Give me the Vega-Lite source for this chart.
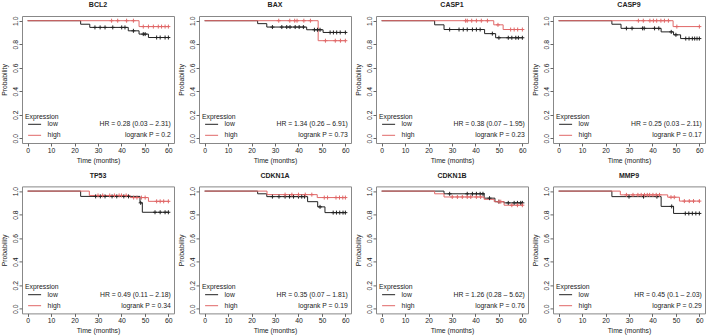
{
  "$schema": "https://vega.github.io/schema/vega-lite/v6.json",
  "padding": {"left": 0, "top": 0, "right": 0, "bottom": 0},
  "background": "white",
  "columns": 4,
  "spacing": {"row": 43.4, "column": 25},
  "bounds": "flush",
  "resolve": {"scale": {"color": "independent"}, "legend": {"color": "independent"}},
  "config": {
    "font": "Liberation Sans",
    "view": {"stroke": "#888888", "strokeWidth": 1},
    "title": {"fontSize": 7, "fontWeight": "bold", "offset": 7.5, "color": "#222222", "anchor": "middle"},
    "axis": {"domain": false, "grid": false, "tickSize": 3, "tickColor": "#666666", "labelFontSize": 6.8, "titleFontSize": 6.8, "titleFontWeight": "normal", "labelColor": "#222222", "titleColor": "#222222", "labelPadding": 1, "labelOverlap": false, "labelFlush": false, "tickCount": 12},
    "axisX": {"titlePadding": 3.5},
    "axisY": {"labelAngle": 270, "labelAlign": "center", "labelBaseline": "bottom", "titlePadding": 5},
    "legend": {"orient": "bottom-left", "offset": 3, "padding": 0, "titleFontSize": 6.8, "titleFontWeight": "normal", "labelFontSize": 6.8, "symbolType": "stroke", "symbolSize": 169, "symbolStrokeWidth": 1, "titlePadding": -3.5, "rowPadding": 0, "symbolOffset": 2.6, "labelOffset": 6, "titleColor": "#222222", "labelColor": "#222222"}
  },
  "datasets": {
    "km": [
      {"g":"BCL2","e":"low","t":0,"s":1,"c":0},
      {"g":"BCL2","e":"low","t":22.6,"s":0.97,"c":0},
      {"g":"BCL2","e":"low","t":26.5,"s":0.943,"c":0},
      {"g":"BCL2","e":"low","t":28.7,"s":0.943,"c":1},
      {"g":"BCL2","e":"low","t":30.9,"s":0.943,"c":1},
      {"g":"BCL2","e":"low","t":33,"s":0.943,"c":1},
      {"g":"BCL2","e":"low","t":36.3,"s":0.943,"c":1},
      {"g":"BCL2","e":"low","t":40.1,"s":0.943,"c":1},
      {"g":"BCL2","e":"low","t":41.5,"s":0.943,"c":1},
      {"g":"BCL2","e":"low","t":42.9,"s":0.914,"c":0},
      {"g":"BCL2","e":"low","t":45.1,"s":0.914,"c":1},
      {"g":"BCL2","e":"low","t":47.5,"s":0.886,"c":0},
      {"g":"BCL2","e":"low","t":49.3,"s":0.886,"c":1},
      {"g":"BCL2","e":"low","t":50.1,"s":0.886,"c":1},
      {"g":"BCL2","e":"low","t":51.5,"s":0.857,"c":0},
      {"g":"BCL2","e":"low","t":55,"s":0.857,"c":1},
      {"g":"BCL2","e":"low","t":56.5,"s":0.857,"c":1},
      {"g":"BCL2","e":"low","t":58.6,"s":0.857,"c":1},
      {"g":"BCL2","e":"low","t":60,"s":0.857,"c":1},
      {"g":"BCL2","e":"high","t":0,"s":1,"c":0},
      {"g":"BCL2","e":"high","t":35.8,"s":1,"c":1},
      {"g":"BCL2","e":"high","t":38.4,"s":1,"c":1},
      {"g":"BCL2","e":"high","t":42.2,"s":1,"c":1},
      {"g":"BCL2","e":"high","t":45.1,"s":1,"c":1},
      {"g":"BCL2","e":"high","t":47.5,"s":0.95,"c":0},
      {"g":"BCL2","e":"high","t":49.3,"s":0.95,"c":1},
      {"g":"BCL2","e":"high","t":51.5,"s":0.95,"c":1},
      {"g":"BCL2","e":"high","t":53.6,"s":0.95,"c":1},
      {"g":"BCL2","e":"high","t":55.7,"s":0.95,"c":1},
      {"g":"BCL2","e":"high","t":57.1,"s":0.95,"c":1},
      {"g":"BCL2","e":"high","t":58.6,"s":0.95,"c":1},
      {"g":"BCL2","e":"high","t":60,"s":0.95,"c":1},

      {"g":"BAX","e":"low","t":0,"s":1,"c":0},
      {"g":"BAX","e":"low","t":22.6,"s":0.975,"c":0},
      {"g":"BAX","e":"low","t":26.5,"s":0.946,"c":0},
      {"g":"BAX","e":"low","t":28.9,"s":0.946,"c":1},
      {"g":"BAX","e":"low","t":32.9,"s":0.946,"c":1},
      {"g":"BAX","e":"low","t":35,"s":0.946,"c":1},
      {"g":"BAX","e":"low","t":36.4,"s":0.946,"c":1},
      {"g":"BAX","e":"low","t":38.6,"s":0.946,"c":1},
      {"g":"BAX","e":"low","t":40.3,"s":0.946,"c":1},
      {"g":"BAX","e":"low","t":42.1,"s":0.946,"c":1},
      {"g":"BAX","e":"low","t":43.5,"s":0.923,"c":0},
      {"g":"BAX","e":"low","t":46.8,"s":0.923,"c":1},
      {"g":"BAX","e":"low","t":48.1,"s":0.923,"c":1},
      {"g":"BAX","e":"low","t":49.2,"s":0.923,"c":1},
      {"g":"BAX","e":"low","t":50.5,"s":0.9,"c":0},
      {"g":"BAX","e":"low","t":53.5,"s":0.9,"c":1},
      {"g":"BAX","e":"low","t":54.9,"s":0.9,"c":1},
      {"g":"BAX","e":"low","t":56.3,"s":0.9,"c":1},
      {"g":"BAX","e":"low","t":57.8,"s":0.9,"c":1},
      {"g":"BAX","e":"low","t":60,"s":0.9,"c":1},
      {"g":"BAX","e":"high","t":0,"s":1,"c":0},
      {"g":"BAX","e":"high","t":31.6,"s":1,"c":1},
      {"g":"BAX","e":"high","t":36.3,"s":1,"c":1},
      {"g":"BAX","e":"high","t":38.4,"s":1,"c":1},
      {"g":"BAX","e":"high","t":39.4,"s":1,"c":1},
      {"g":"BAX","e":"high","t":42.3,"s":1,"c":1},
      {"g":"BAX","e":"high","t":45.1,"s":1,"c":1},
      {"g":"BAX","e":"high","t":48.4,"s":0.83,"c":0},
      {"g":"BAX","e":"high","t":51.5,"s":0.83,"c":1},
      {"g":"BAX","e":"high","t":55.7,"s":0.83,"c":1},
      {"g":"BAX","e":"high","t":57.9,"s":0.83,"c":1},
      {"g":"BAX","e":"high","t":60,"s":0.83,"c":1},

      {"g":"CASP1","e":"low","t":0,"s":1,"c":0},
      {"g":"CASP1","e":"low","t":22.6,"s":0.965,"c":0},
      {"g":"CASP1","e":"low","t":26.6,"s":0.925,"c":0},
      {"g":"CASP1","e":"low","t":29,"s":0.925,"c":1},
      {"g":"CASP1","e":"low","t":33,"s":0.925,"c":1},
      {"g":"CASP1","e":"low","t":34.8,"s":0.925,"c":1},
      {"g":"CASP1","e":"low","t":36.5,"s":0.925,"c":1},
      {"g":"CASP1","e":"low","t":38.7,"s":0.925,"c":1},
      {"g":"CASP1","e":"low","t":40.4,"s":0.925,"c":1},
      {"g":"CASP1","e":"low","t":42,"s":0.925,"c":1},
      {"g":"CASP1","e":"low","t":43.9,"s":0.89,"c":0},
      {"g":"CASP1","e":"low","t":47.2,"s":0.89,"c":1},
      {"g":"CASP1","e":"low","t":48.6,"s":0.855,"c":0},
      {"g":"CASP1","e":"low","t":50,"s":0.855,"c":1},
      {"g":"CASP1","e":"low","t":54,"s":0.855,"c":1},
      {"g":"CASP1","e":"low","t":55.5,"s":0.855,"c":1},
      {"g":"CASP1","e":"low","t":57.2,"s":0.855,"c":1},
      {"g":"CASP1","e":"low","t":58.3,"s":0.855,"c":1},
      {"g":"CASP1","e":"low","t":60,"s":0.855,"c":1},
      {"g":"CASP1","e":"high","t":0,"s":1,"c":0},
      {"g":"CASP1","e":"high","t":35.8,"s":1,"c":1},
      {"g":"CASP1","e":"high","t":36.5,"s":1,"c":1},
      {"g":"CASP1","e":"high","t":38.4,"s":1,"c":1},
      {"g":"CASP1","e":"high","t":40.4,"s":1,"c":1},
      {"g":"CASP1","e":"high","t":42.5,"s":1,"c":1},
      {"g":"CASP1","e":"high","t":45.1,"s":1,"c":1},
      {"g":"CASP1","e":"high","t":47.8,"s":0.965,"c":0},
      {"g":"CASP1","e":"high","t":49.6,"s":0.965,"c":1},
      {"g":"CASP1","e":"high","t":51.8,"s":0.925,"c":0},
      {"g":"CASP1","e":"high","t":55,"s":0.925,"c":1},
      {"g":"CASP1","e":"high","t":56.5,"s":0.925,"c":1},
      {"g":"CASP1","e":"high","t":58,"s":0.925,"c":1},
      {"g":"CASP1","e":"high","t":60,"s":0.925,"c":1},

      {"g":"CASP9","e":"low","t":0,"s":1,"c":0},
      {"g":"CASP9","e":"low","t":22.7,"s":0.97,"c":0},
      {"g":"CASP9","e":"low","t":26.6,"s":0.935,"c":0},
      {"g":"CASP9","e":"low","t":28.9,"s":0.935,"c":1},
      {"g":"CASP9","e":"low","t":31.3,"s":0.935,"c":1},
      {"g":"CASP9","e":"low","t":35.8,"s":0.935,"c":1},
      {"g":"CASP9","e":"low","t":36.5,"s":0.935,"c":1},
      {"g":"CASP9","e":"low","t":40.9,"s":0.935,"c":1},
      {"g":"CASP9","e":"low","t":42.7,"s":0.935,"c":1},
      {"g":"CASP9","e":"low","t":43.7,"s":0.905,"c":0},
      {"g":"CASP9","e":"low","t":48,"s":0.905,"c":1},
      {"g":"CASP9","e":"low","t":49,"s":0.88,"c":0},
      {"g":"CASP9","e":"low","t":50,"s":0.88,"c":1},
      {"g":"CASP9","e":"low","t":52,"s":0.848,"c":0},
      {"g":"CASP9","e":"low","t":54.2,"s":0.848,"c":1},
      {"g":"CASP9","e":"low","t":55.6,"s":0.848,"c":1},
      {"g":"CASP9","e":"low","t":57,"s":0.848,"c":1},
      {"g":"CASP9","e":"low","t":58,"s":0.848,"c":1},
      {"g":"CASP9","e":"low","t":59,"s":0.848,"c":1},
      {"g":"CASP9","e":"low","t":60,"s":0.848,"c":1},
      {"g":"CASP9","e":"high","t":0,"s":1,"c":0},
      {"g":"CASP9","e":"high","t":34,"s":1,"c":1},
      {"g":"CASP9","e":"high","t":36.1,"s":1,"c":1},
      {"g":"CASP9","e":"high","t":38.9,"s":1,"c":1},
      {"g":"CASP9","e":"high","t":40.4,"s":1,"c":1},
      {"g":"CASP9","e":"high","t":41.8,"s":1,"c":1},
      {"g":"CASP9","e":"high","t":43.6,"s":1,"c":1},
      {"g":"CASP9","e":"high","t":45.1,"s":1,"c":1},
      {"g":"CASP9","e":"high","t":46.8,"s":1,"c":1},
      {"g":"CASP9","e":"high","t":48.8,"s":0.95,"c":0},
      {"g":"CASP9","e":"high","t":50.4,"s":0.95,"c":1},
      {"g":"CASP9","e":"high","t":60,"s":0.95,"c":1},

      {"g":"TP53","e":"low","t":0,"s":1,"c":0},
      {"g":"TP53","e":"low","t":22.6,"s":0.955,"c":0},
      {"g":"TP53","e":"low","t":29,"s":0.955,"c":1},
      {"g":"TP53","e":"low","t":31,"s":0.955,"c":1},
      {"g":"TP53","e":"low","t":33,"s":0.955,"c":1},
      {"g":"TP53","e":"low","t":36,"s":0.955,"c":1},
      {"g":"TP53","e":"low","t":38,"s":0.955,"c":1},
      {"g":"TP53","e":"low","t":41,"s":0.955,"c":1},
      {"g":"TP53","e":"low","t":43,"s":0.955,"c":1},
      {"g":"TP53","e":"low","t":47.9,"s":0.9,"c":0},
      {"g":"TP53","e":"low","t":48.2,"s":0.9,"c":1},
      {"g":"TP53","e":"low","t":48.9,"s":0.82,"c":0},
      {"g":"TP53","e":"low","t":54.3,"s":0.82,"c":1},
      {"g":"TP53","e":"low","t":56.5,"s":0.82,"c":1},
      {"g":"TP53","e":"low","t":58.6,"s":0.82,"c":1},
      {"g":"TP53","e":"low","t":60,"s":0.82,"c":1},
      {"g":"TP53","e":"high","t":0,"s":1,"c":0},
      {"g":"TP53","e":"high","t":26.3,"s":0.963,"c":0},
      {"g":"TP53","e":"high","t":30,"s":0.963,"c":1},
      {"g":"TP53","e":"high","t":32,"s":0.963,"c":1},
      {"g":"TP53","e":"high","t":35,"s":0.963,"c":1},
      {"g":"TP53","e":"high","t":37,"s":0.963,"c":1},
      {"g":"TP53","e":"high","t":39,"s":0.963,"c":1},
      {"g":"TP53","e":"high","t":40,"s":0.963,"c":1},
      {"g":"TP53","e":"high","t":42,"s":0.963,"c":1},
      {"g":"TP53","e":"high","t":43.7,"s":0.945,"c":0},
      {"g":"TP53","e":"high","t":45.2,"s":0.945,"c":1},
      {"g":"TP53","e":"high","t":46.6,"s":0.945,"c":1},
      {"g":"TP53","e":"high","t":48.5,"s":0.945,"c":1},
      {"g":"TP53","e":"high","t":50.1,"s":0.945,"c":1},
      {"g":"TP53","e":"high","t":51.5,"s":0.913,"c":0},
      {"g":"TP53","e":"high","t":55,"s":0.913,"c":1},
      {"g":"TP53","e":"high","t":56.5,"s":0.913,"c":1},
      {"g":"TP53","e":"high","t":58,"s":0.913,"c":1},
      {"g":"TP53","e":"high","t":60,"s":0.913,"c":1},

      {"g":"CDKN1A","e":"low","t":0,"s":1,"c":0},
      {"g":"CDKN1A","e":"low","t":22.6,"s":0.977,"c":0},
      {"g":"CDKN1A","e":"low","t":26.5,"s":0.953,"c":0},
      {"g":"CDKN1A","e":"low","t":28.9,"s":0.953,"c":1},
      {"g":"CDKN1A","e":"low","t":31.7,"s":0.953,"c":1},
      {"g":"CDKN1A","e":"low","t":34.3,"s":0.953,"c":1},
      {"g":"CDKN1A","e":"low","t":36.2,"s":0.953,"c":1},
      {"g":"CDKN1A","e":"low","t":37.9,"s":0.953,"c":1},
      {"g":"CDKN1A","e":"low","t":40,"s":0.953,"c":1},
      {"g":"CDKN1A","e":"low","t":41.4,"s":0.953,"c":1},
      {"g":"CDKN1A","e":"low","t":42.6,"s":0.953,"c":1},
      {"g":"CDKN1A","e":"low","t":43.9,"s":0.91,"c":0},
      {"g":"CDKN1A","e":"low","t":48.2,"s":0.866,"c":0},
      {"g":"CDKN1A","e":"low","t":49.2,"s":0.866,"c":1},
      {"g":"CDKN1A","e":"low","t":51.3,"s":0.817,"c":0},
      {"g":"CDKN1A","e":"low","t":54.8,"s":0.817,"c":1},
      {"g":"CDKN1A","e":"low","t":56.2,"s":0.817,"c":1},
      {"g":"CDKN1A","e":"low","t":57.6,"s":0.817,"c":1},
      {"g":"CDKN1A","e":"low","t":59,"s":0.817,"c":1},
      {"g":"CDKN1A","e":"low","t":60,"s":0.817,"c":1},
      {"g":"CDKN1A","e":"high","t":0,"s":1,"c":0},
      {"g":"CDKN1A","e":"high","t":26.6,"s":0.97,"c":0},
      {"g":"CDKN1A","e":"high","t":34.3,"s":0.97,"c":1},
      {"g":"CDKN1A","e":"high","t":37.2,"s":0.97,"c":1},
      {"g":"CDKN1A","e":"high","t":40,"s":0.97,"c":1},
      {"g":"CDKN1A","e":"high","t":42.9,"s":0.97,"c":1},
      {"g":"CDKN1A","e":"high","t":45.7,"s":0.97,"c":1},
      {"g":"CDKN1A","e":"high","t":48,"s":0.945,"c":0},
      {"g":"CDKN1A","e":"high","t":51,"s":0.945,"c":1},
      {"g":"CDKN1A","e":"high","t":52.4,"s":0.945,"c":1},
      {"g":"CDKN1A","e":"high","t":56,"s":0.945,"c":1},
      {"g":"CDKN1A","e":"high","t":57.5,"s":0.945,"c":1},
      {"g":"CDKN1A","e":"high","t":58.9,"s":0.945,"c":1},
      {"g":"CDKN1A","e":"high","t":60,"s":0.945,"c":1},

      {"g":"CDKN1B","e":"low","t":0,"s":1,"c":0},
      {"g":"CDKN1B","e":"low","t":26.6,"s":0.977,"c":0},
      {"g":"CDKN1B","e":"low","t":29,"s":0.977,"c":1},
      {"g":"CDKN1B","e":"low","t":36.5,"s":0.977,"c":1},
      {"g":"CDKN1B","e":"low","t":38.7,"s":0.977,"c":1},
      {"g":"CDKN1B","e":"low","t":40.4,"s":0.977,"c":1},
      {"g":"CDKN1B","e":"low","t":42,"s":0.977,"c":1},
      {"g":"CDKN1B","e":"low","t":43.2,"s":0.977,"c":1},
      {"g":"CDKN1B","e":"low","t":43.7,"s":0.94,"c":0},
      {"g":"CDKN1B","e":"low","t":46,"s":0.94,"c":1},
      {"g":"CDKN1B","e":"low","t":48.3,"s":0.91,"c":0},
      {"g":"CDKN1B","e":"low","t":50,"s":0.91,"c":1},
      {"g":"CDKN1B","e":"low","t":52.2,"s":0.9,"c":0},
      {"g":"CDKN1B","e":"low","t":54,"s":0.9,"c":1},
      {"g":"CDKN1B","e":"low","t":56.5,"s":0.9,"c":1},
      {"g":"CDKN1B","e":"low","t":57.9,"s":0.9,"c":1},
      {"g":"CDKN1B","e":"low","t":59.3,"s":0.9,"c":1},
      {"g":"CDKN1B","e":"low","t":60,"s":0.9,"c":1},
      {"g":"CDKN1B","e":"high","t":0,"s":1,"c":0},
      {"g":"CDKN1B","e":"high","t":22.6,"s":0.977,"c":0},
      {"g":"CDKN1B","e":"high","t":26.6,"s":0.95,"c":0},
      {"g":"CDKN1B","e":"high","t":30.1,"s":0.95,"c":1},
      {"g":"CDKN1B","e":"high","t":32.3,"s":0.95,"c":1},
      {"g":"CDKN1B","e":"high","t":34.4,"s":0.95,"c":1},
      {"g":"CDKN1B","e":"high","t":36.5,"s":0.95,"c":1},
      {"g":"CDKN1B","e":"high","t":38,"s":0.95,"c":1},
      {"g":"CDKN1B","e":"high","t":40.4,"s":0.95,"c":1},
      {"g":"CDKN1B","e":"high","t":42.2,"s":0.95,"c":1},
      {"g":"CDKN1B","e":"high","t":43.7,"s":0.93,"c":0},
      {"g":"CDKN1B","e":"high","t":48,"s":0.91,"c":0},
      {"g":"CDKN1B","e":"high","t":50,"s":0.91,"c":1},
      {"g":"CDKN1B","e":"high","t":50.8,"s":0.91,"c":1},
      {"g":"CDKN1B","e":"high","t":52.2,"s":0.88,"c":0},
      {"g":"CDKN1B","e":"high","t":55.5,"s":0.88,"c":1},
      {"g":"CDKN1B","e":"high","t":57.9,"s":0.88,"c":1},
      {"g":"CDKN1B","e":"high","t":60,"s":0.88,"c":1},

      {"g":"MMP9","e":"low","t":0,"s":1,"c":0},
      {"g":"MMP9","e":"low","t":22.7,"s":0.953,"c":0},
      {"g":"MMP9","e":"low","t":30,"s":0.953,"c":1},
      {"g":"MMP9","e":"low","t":36.2,"s":0.953,"c":1},
      {"g":"MMP9","e":"low","t":41.9,"s":0.953,"c":1},
      {"g":"MMP9","e":"low","t":43.7,"s":0.87,"c":0},
      {"g":"MMP9","e":"low","t":48.2,"s":0.87,"c":1},
      {"g":"MMP9","e":"low","t":49,"s":0.81,"c":0},
      {"g":"MMP9","e":"low","t":54,"s":0.81,"c":1},
      {"g":"MMP9","e":"low","t":55.5,"s":0.81,"c":1},
      {"g":"MMP9","e":"low","t":57,"s":0.81,"c":1},
      {"g":"MMP9","e":"low","t":58.5,"s":0.81,"c":1},
      {"g":"MMP9","e":"low","t":60,"s":0.81,"c":1},
      {"g":"MMP9","e":"high","t":0,"s":1,"c":0},
      {"g":"MMP9","e":"high","t":26.3,"s":0.968,"c":0},
      {"g":"MMP9","e":"high","t":28.9,"s":0.968,"c":1},
      {"g":"MMP9","e":"high","t":31.7,"s":0.968,"c":1},
      {"g":"MMP9","e":"high","t":33.8,"s":0.968,"c":1},
      {"g":"MMP9","e":"high","t":35.2,"s":0.968,"c":1},
      {"g":"MMP9","e":"high","t":36.6,"s":0.968,"c":1},
      {"g":"MMP9","e":"high","t":37.8,"s":0.968,"c":1},
      {"g":"MMP9","e":"high","t":38.8,"s":0.968,"c":1},
      {"g":"MMP9","e":"high","t":40.2,"s":0.968,"c":1},
      {"g":"MMP9","e":"high","t":41.6,"s":0.968,"c":1},
      {"g":"MMP9","e":"high","t":43,"s":0.968,"c":1},
      {"g":"MMP9","e":"high","t":46.5,"s":0.948,"c":0},
      {"g":"MMP9","e":"high","t":47.9,"s":0.948,"c":1},
      {"g":"MMP9","e":"high","t":49.3,"s":0.948,"c":1},
      {"g":"MMP9","e":"high","t":51.5,"s":0.915,"c":0},
      {"g":"MMP9","e":"high","t":53.6,"s":0.915,"c":1},
      {"g":"MMP9","e":"high","t":55.7,"s":0.915,"c":1},
      {"g":"MMP9","e":"high","t":57.5,"s":0.915,"c":1},
      {"g":"MMP9","e":"high","t":60,"s":0.915,"c":1}
    ],
    "stats": [
      {"g":"BCL2","txt":"HR = 0.28 (0.03 – 2.31)\nlogrank P = 0.2"},
      {"g":"BAX","txt":"HR = 1.34 (0.26 – 6.91)\nlogrank P = 0.73"},
      {"g":"CASP1","txt":"HR = 0.38 (0.07 – 1.95)\nlogrank P = 0.23"},
      {"g":"CASP9","txt":"HR = 0.25 (0.03 – 2.11)\nlogrank P = 0.17"},
      {"g":"TP53","txt":"HR = 0.49 (0.11 – 2.18)\nlogrank P = 0.34"},
      {"g":"CDKN1A","txt":"HR = 0.35 (0.07 – 1.81)\nlogrank P = 0.19"},
      {"g":"CDKN1B","txt":"HR = 1.26 (0.28 – 5.62)\nlogrank P = 0.76"},
      {"g":"MMP9","txt":"HR = 0.45 (0.1 – 2.03)\nlogrank P = 0.29"}
    ]
  },
  "concat": [
    {"title": "BCL2", "width": 152, "height": 127, "layer": [
      {"data": {"name": "km"}, "transform": [{"filter": "datum.g==='BCL2'"}], "mark": {"type": "line", "interpolate": "step-after", "strokeWidth": 1},
       "encoding": {"x": {"field": "t", "type": "quantitative", "scale": {"domain": [-2.4, 62.4], "nice": false, "zero": false}, "axis": {"values": [0,10,20,30,40,50,60], "tickCount": 12, "labelOverlap": false, "title": "Time (months)"}},
                    "y": {"field": "s", "type": "quantitative", "scale": {"domain": [-0.04, 1.04], "nice": false, "zero": false}, "axis": {"values": [0,0.2,0.4,0.6,0.8,1], "tickCount": 12, "labelOverlap": false, "format": ".1f", "title": "Probability"}},
                    "color": {"field": "e", "type": "nominal", "scale": {"domain": ["low","high"], "range": ["#222222","#e06868"]}, "title": "Expression"}}},
      {"data": {"name": "km"}, "transform": [{"filter": "datum.g==='BCL2' && datum.c===1"}], "mark": {"type": "point", "shape": "M-1,0H1M0,-1V1", "filled": false, "size": 16, "strokeWidth": 1, "opacity": 1},
       "encoding": {"x": {"field": "t", "type": "quantitative"}, "y": {"field": "s", "type": "quantitative"}, "color": {"field": "e", "type": "nominal", "title": "Expression"}}},
      {"data": {"name": "stats"}, "transform": [{"filter": "datum.g==='BCL2'"}], "mark": {"type": "text", "align": "right", "baseline": "middle", "lineBreak": "\n", "lineHeight": 11, "fontSize": 6.8, "color": "#222222"},
       "encoding": {"x": {"datum": 61}, "y": {"datum": 0.118}, "text": {"field": "txt"}}}
    ]},
    {"title": "BAX", "width": 152, "height": 127, "layer": [
      {"data": {"name": "km"}, "transform": [{"filter": "datum.g==='BAX'"}], "mark": {"type": "line", "interpolate": "step-after", "strokeWidth": 1},
       "encoding": {"x": {"field": "t", "type": "quantitative", "scale": {"domain": [-2.4, 62.4], "nice": false, "zero": false}, "axis": {"values": [0,10,20,30,40,50,60], "tickCount": 12, "labelOverlap": false, "title": "Time (months)"}},
                    "y": {"field": "s", "type": "quantitative", "scale": {"domain": [-0.04, 1.04], "nice": false, "zero": false}, "axis": {"values": [0,0.2,0.4,0.6,0.8,1], "tickCount": 12, "labelOverlap": false, "format": ".1f", "title": "Probability"}},
                    "color": {"field": "e", "type": "nominal", "scale": {"domain": ["low","high"], "range": ["#222222","#e06868"]}, "title": "Expression"}}},
      {"data": {"name": "km"}, "transform": [{"filter": "datum.g==='BAX' && datum.c===1"}], "mark": {"type": "point", "shape": "M-1,0H1M0,-1V1", "filled": false, "size": 16, "strokeWidth": 1, "opacity": 1},
       "encoding": {"x": {"field": "t", "type": "quantitative"}, "y": {"field": "s", "type": "quantitative"}, "color": {"field": "e", "type": "nominal", "title": "Expression"}}},
      {"data": {"name": "stats"}, "transform": [{"filter": "datum.g==='BAX'"}], "mark": {"type": "text", "align": "right", "baseline": "middle", "lineBreak": "\n", "lineHeight": 11, "fontSize": 6.8, "color": "#222222"},
       "encoding": {"x": {"datum": 61}, "y": {"datum": 0.118}, "text": {"field": "txt"}}}
    ]},
    {"title": "CASP1", "width": 152, "height": 127, "layer": [
      {"data": {"name": "km"}, "transform": [{"filter": "datum.g==='CASP1'"}], "mark": {"type": "line", "interpolate": "step-after", "strokeWidth": 1},
       "encoding": {"x": {"field": "t", "type": "quantitative", "scale": {"domain": [-2.4, 62.4], "nice": false, "zero": false}, "axis": {"values": [0,10,20,30,40,50,60], "tickCount": 12, "labelOverlap": false, "title": "Time (months)"}},
                    "y": {"field": "s", "type": "quantitative", "scale": {"domain": [-0.04, 1.04], "nice": false, "zero": false}, "axis": {"values": [0,0.2,0.4,0.6,0.8,1], "tickCount": 12, "labelOverlap": false, "format": ".1f", "title": "Probability"}},
                    "color": {"field": "e", "type": "nominal", "scale": {"domain": ["low","high"], "range": ["#222222","#e06868"]}, "title": "Expression"}}},
      {"data": {"name": "km"}, "transform": [{"filter": "datum.g==='CASP1' && datum.c===1"}], "mark": {"type": "point", "shape": "M-1,0H1M0,-1V1", "filled": false, "size": 16, "strokeWidth": 1, "opacity": 1},
       "encoding": {"x": {"field": "t", "type": "quantitative"}, "y": {"field": "s", "type": "quantitative"}, "color": {"field": "e", "type": "nominal", "title": "Expression"}}},
      {"data": {"name": "stats"}, "transform": [{"filter": "datum.g==='CASP1'"}], "mark": {"type": "text", "align": "right", "baseline": "middle", "lineBreak": "\n", "lineHeight": 11, "fontSize": 6.8, "color": "#222222"},
       "encoding": {"x": {"datum": 61}, "y": {"datum": 0.118}, "text": {"field": "txt"}}}
    ]},
    {"title": "CASP9", "width": 152, "height": 127, "layer": [
      {"data": {"name": "km"}, "transform": [{"filter": "datum.g==='CASP9'"}], "mark": {"type": "line", "interpolate": "step-after", "strokeWidth": 1},
       "encoding": {"x": {"field": "t", "type": "quantitative", "scale": {"domain": [-2.4, 62.4], "nice": false, "zero": false}, "axis": {"values": [0,10,20,30,40,50,60], "tickCount": 12, "labelOverlap": false, "title": "Time (months)"}},
                    "y": {"field": "s", "type": "quantitative", "scale": {"domain": [-0.04, 1.04], "nice": false, "zero": false}, "axis": {"values": [0,0.2,0.4,0.6,0.8,1], "tickCount": 12, "labelOverlap": false, "format": ".1f", "title": "Probability"}},
                    "color": {"field": "e", "type": "nominal", "scale": {"domain": ["low","high"], "range": ["#222222","#e06868"]}, "title": "Expression"}}},
      {"data": {"name": "km"}, "transform": [{"filter": "datum.g==='CASP9' && datum.c===1"}], "mark": {"type": "point", "shape": "M-1,0H1M0,-1V1", "filled": false, "size": 16, "strokeWidth": 1, "opacity": 1},
       "encoding": {"x": {"field": "t", "type": "quantitative"}, "y": {"field": "s", "type": "quantitative"}, "color": {"field": "e", "type": "nominal", "title": "Expression"}}},
      {"data": {"name": "stats"}, "transform": [{"filter": "datum.g==='CASP9'"}], "mark": {"type": "text", "align": "right", "baseline": "middle", "lineBreak": "\n", "lineHeight": 11, "fontSize": 6.8, "color": "#222222"},
       "encoding": {"x": {"datum": 61}, "y": {"datum": 0.118}, "text": {"field": "txt"}}}
    ]},
    {"title": "TP53", "width": 152, "height": 127, "layer": [
      {"data": {"name": "km"}, "transform": [{"filter": "datum.g==='TP53'"}], "mark": {"type": "line", "interpolate": "step-after", "strokeWidth": 1},
       "encoding": {"x": {"field": "t", "type": "quantitative", "scale": {"domain": [-2.4, 62.4], "nice": false, "zero": false}, "axis": {"values": [0,10,20,30,40,50,60], "tickCount": 12, "labelOverlap": false, "title": "Time (months)"}},
                    "y": {"field": "s", "type": "quantitative", "scale": {"domain": [-0.04, 1.04], "nice": false, "zero": false}, "axis": {"values": [0,0.2,0.4,0.6,0.8,1], "tickCount": 12, "labelOverlap": false, "format": ".1f", "title": "Probability"}},
                    "color": {"field": "e", "type": "nominal", "scale": {"domain": ["low","high"], "range": ["#222222","#e06868"]}, "title": "Expression"}}},
      {"data": {"name": "km"}, "transform": [{"filter": "datum.g==='TP53' && datum.c===1"}], "mark": {"type": "point", "shape": "M-1,0H1M0,-1V1", "filled": false, "size": 16, "strokeWidth": 1, "opacity": 1},
       "encoding": {"x": {"field": "t", "type": "quantitative"}, "y": {"field": "s", "type": "quantitative"}, "color": {"field": "e", "type": "nominal", "title": "Expression"}}},
      {"data": {"name": "stats"}, "transform": [{"filter": "datum.g==='TP53'"}], "mark": {"type": "text", "align": "right", "baseline": "middle", "lineBreak": "\n", "lineHeight": 11, "fontSize": 6.8, "color": "#222222"},
       "encoding": {"x": {"datum": 61}, "y": {"datum": 0.118}, "text": {"field": "txt"}}}
    ]},
    {"title": "CDKN1A", "width": 152, "height": 127, "layer": [
      {"data": {"name": "km"}, "transform": [{"filter": "datum.g==='CDKN1A'"}], "mark": {"type": "line", "interpolate": "step-after", "strokeWidth": 1},
       "encoding": {"x": {"field": "t", "type": "quantitative", "scale": {"domain": [-2.4, 62.4], "nice": false, "zero": false}, "axis": {"values": [0,10,20,30,40,50,60], "tickCount": 12, "labelOverlap": false, "title": "Time (months)"}},
                    "y": {"field": "s", "type": "quantitative", "scale": {"domain": [-0.04, 1.04], "nice": false, "zero": false}, "axis": {"values": [0,0.2,0.4,0.6,0.8,1], "tickCount": 12, "labelOverlap": false, "format": ".1f", "title": "Probability"}},
                    "color": {"field": "e", "type": "nominal", "scale": {"domain": ["low","high"], "range": ["#222222","#e06868"]}, "title": "Expression"}}},
      {"data": {"name": "km"}, "transform": [{"filter": "datum.g==='CDKN1A' && datum.c===1"}], "mark": {"type": "point", "shape": "M-1,0H1M0,-1V1", "filled": false, "size": 16, "strokeWidth": 1, "opacity": 1},
       "encoding": {"x": {"field": "t", "type": "quantitative"}, "y": {"field": "s", "type": "quantitative"}, "color": {"field": "e", "type": "nominal", "title": "Expression"}}},
      {"data": {"name": "stats"}, "transform": [{"filter": "datum.g==='CDKN1A'"}], "mark": {"type": "text", "align": "right", "baseline": "middle", "lineBreak": "\n", "lineHeight": 11, "fontSize": 6.8, "color": "#222222"},
       "encoding": {"x": {"datum": 61}, "y": {"datum": 0.118}, "text": {"field": "txt"}}}
    ]},
    {"title": "CDKN1B", "width": 152, "height": 127, "layer": [
      {"data": {"name": "km"}, "transform": [{"filter": "datum.g==='CDKN1B'"}], "mark": {"type": "line", "interpolate": "step-after", "strokeWidth": 1},
       "encoding": {"x": {"field": "t", "type": "quantitative", "scale": {"domain": [-2.4, 62.4], "nice": false, "zero": false}, "axis": {"values": [0,10,20,30,40,50,60], "tickCount": 12, "labelOverlap": false, "title": "Time (months)"}},
                    "y": {"field": "s", "type": "quantitative", "scale": {"domain": [-0.04, 1.04], "nice": false, "zero": false}, "axis": {"values": [0,0.2,0.4,0.6,0.8,1], "tickCount": 12, "labelOverlap": false, "format": ".1f", "title": "Probability"}},
                    "color": {"field": "e", "type": "nominal", "scale": {"domain": ["low","high"], "range": ["#222222","#e06868"]}, "title": "Expression"}}},
      {"data": {"name": "km"}, "transform": [{"filter": "datum.g==='CDKN1B' && datum.c===1"}], "mark": {"type": "point", "shape": "M-1,0H1M0,-1V1", "filled": false, "size": 16, "strokeWidth": 1, "opacity": 1},
       "encoding": {"x": {"field": "t", "type": "quantitative"}, "y": {"field": "s", "type": "quantitative"}, "color": {"field": "e", "type": "nominal", "title": "Expression"}}},
      {"data": {"name": "stats"}, "transform": [{"filter": "datum.g==='CDKN1B'"}], "mark": {"type": "text", "align": "right", "baseline": "middle", "lineBreak": "\n", "lineHeight": 11, "fontSize": 6.8, "color": "#222222"},
       "encoding": {"x": {"datum": 61}, "y": {"datum": 0.118}, "text": {"field": "txt"}}}
    ]},
    {"title": "MMP9", "width": 152, "height": 127, "layer": [
      {"data": {"name": "km"}, "transform": [{"filter": "datum.g==='MMP9'"}], "mark": {"type": "line", "interpolate": "step-after", "strokeWidth": 1},
       "encoding": {"x": {"field": "t", "type": "quantitative", "scale": {"domain": [-2.4, 62.4], "nice": false, "zero": false}, "axis": {"values": [0,10,20,30,40,50,60], "tickCount": 12, "labelOverlap": false, "title": "Time (months)"}},
                    "y": {"field": "s", "type": "quantitative", "scale": {"domain": [-0.04, 1.04], "nice": false, "zero": false}, "axis": {"values": [0,0.2,0.4,0.6,0.8,1], "tickCount": 12, "labelOverlap": false, "format": ".1f", "title": "Probability"}},
                    "color": {"field": "e", "type": "nominal", "scale": {"domain": ["low","high"], "range": ["#222222","#e06868"]}, "title": "Expression"}}},
      {"data": {"name": "km"}, "transform": [{"filter": "datum.g==='MMP9' && datum.c===1"}], "mark": {"type": "point", "shape": "M-1,0H1M0,-1V1", "filled": false, "size": 16, "strokeWidth": 1, "opacity": 1},
       "encoding": {"x": {"field": "t", "type": "quantitative"}, "y": {"field": "s", "type": "quantitative"}, "color": {"field": "e", "type": "nominal", "title": "Expression"}}},
      {"data": {"name": "stats"}, "transform": [{"filter": "datum.g==='MMP9'"}], "mark": {"type": "text", "align": "right", "baseline": "middle", "lineBreak": "\n", "lineHeight": 11, "fontSize": 6.8, "color": "#222222"},
       "encoding": {"x": {"datum": 61}, "y": {"datum": 0.118}, "text": {"field": "txt"}}}
    ]}
  ]
}
